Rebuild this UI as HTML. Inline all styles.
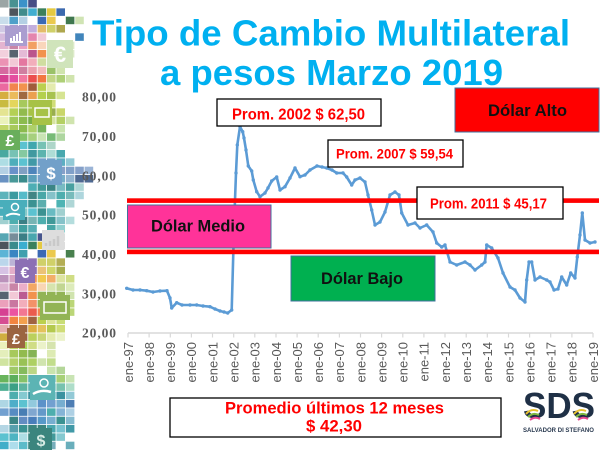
<!DOCTYPE html>
<html><head><meta charset="utf-8">
<style>
html,body{margin:0;padding:0;background:#fff;}
svg{display:block;}
text{font-family:"Liberation Sans",sans-serif;}
</style></head>
<body>
<svg id="s" width="610" height="450" viewBox="0 0 610 450" xmlns="http://www.w3.org/2000/svg">
<rect width="610" height="450" fill="#fff"/>
<g opacity="0.85">
<g id="mosaic"></g>
<g id="icons">
  <rect x="5" y="26" width="22" height="20" fill="#9c8cc8"/>
  <path d="M10 42 h13 M11 42 v-4 M14 42 v-6 M17 42 v-8 M20 42 v-10" stroke="#fff" stroke-width="2" fill="none"/>
  <rect x="47" y="40" width="26" height="28" fill="#c8e0b0"/>
  <text x="60" y="62" font-size="22" font-weight="bold" fill="#fff" text-anchor="middle">€</text>
  <rect x="32" y="100" width="20" height="25" fill="#98b828"/>
  <rect x="35" y="108" width="14" height="9" fill="none" stroke="#fff" stroke-width="1.5"/>
  <rect x="0" y="130" width="20" height="20" fill="#50a040"/>
  <text x="10" y="146" font-size="16" font-weight="bold" fill="#fff" text-anchor="middle">£</text>
  <rect x="40" y="160" width="22" height="25" fill="#5a90c0"/>
  <text x="51" y="179" font-size="17" font-weight="bold" fill="#fff" text-anchor="middle">$</text>
  <rect x="3" y="200" width="22" height="20" fill="#2aa0b0"/>
  <circle cx="15" cy="207" r="3.5" fill="none" stroke="#fff" stroke-width="1.5"/>
  <path d="M6 216 q6 -4 14 -1" stroke="#fff" stroke-width="2" fill="none"/>
  <rect x="42" y="230" width="22" height="20" fill="#d8d8d8"/>
  <path d="M46 246 v-3 M50 246 v-5 M54 246 v-7 M58 246 v-10" stroke="#c0c0c0" stroke-width="2.5"/>
  <rect x="15" y="260" width="20" height="23" fill="#7858a8"/>
  <text x="25" y="278" font-size="16" font-weight="bold" fill="#fff" text-anchor="middle">€</text>
  <rect x="40" y="295" width="30" height="25" fill="#80a838"/>
  <rect x="44" y="302" width="22" height="11" fill="none" stroke="#fff" stroke-width="1.5"/>
  <rect x="7" y="328" width="18" height="20" fill="#8a4a20"/>
  <text x="16" y="344" font-size="15" font-weight="bold" fill="#fff" text-anchor="middle">£</text>
  <rect x="30" y="375" width="25" height="25" fill="#40a8a8"/>
  <circle cx="44" cy="383" r="4" fill="none" stroke="#fff" stroke-width="1.5"/>
  <path d="M33 394 q8 -5 18 -2" stroke="#fff" stroke-width="2.5" fill="none"/>
  <rect x="30" y="428" width="22" height="22" fill="#1a7068"/>
  <text x="41" y="446" font-size="16" font-weight="bold" fill="#cfe8e0" text-anchor="middle">$</text>
</g>
</g>

<!-- Title -->
<text x="92" y="45.7" font-size="36" font-weight="bold" fill="#00b0f0" textLength="478" lengthAdjust="spacingAndGlyphs">Tipo de Cambio Multilateral</text>
<text x="160" y="85" font-size="36" font-weight="bold" fill="#00b0f0" textLength="343" lengthAdjust="spacingAndGlyphs">a pesos Marzo 2019</text>

<!-- Y axis labels -->
<g font-weight="bold" font-size="13.5" fill="#595959">
  <text x="82" y="101.7" textLength="34" lengthAdjust="spacing" style="font-family:'Liberation Serif',serif">80,00</text>
  <text x="82" y="141" textLength="34" lengthAdjust="spacing" style="font-family:'Liberation Serif',serif">70,00</text>
  <text x="82" y="180.3" textLength="34" lengthAdjust="spacing" style="font-family:'Liberation Serif',serif">60,00</text>
  <text x="82" y="219.6" textLength="34" lengthAdjust="spacing" style="font-family:'Liberation Serif',serif">50,00</text>
  <text x="82" y="259" textLength="34" lengthAdjust="spacing" style="font-family:'Liberation Serif',serif">40,00</text>
  <text x="82" y="298.3" textLength="34" lengthAdjust="spacing" style="font-family:'Liberation Serif',serif">30,00</text>
  <text x="82" y="337.6" textLength="34" lengthAdjust="spacing" style="font-family:'Liberation Serif',serif">20,00</text>
</g>

<!-- X axis -->
<line x1="128" y1="333" x2="593" y2="333" stroke="#d9d9d9" stroke-width="1.5"/>
<g stroke="#d9d9d9" stroke-width="1.2">
  <line x1="128" y1="333" x2="128" y2="337.5"/><line x1="149.1" y1="333" x2="149.1" y2="337.5"/><line x1="170.3" y1="333" x2="170.3" y2="337.5"/><line x1="191.4" y1="333" x2="191.4" y2="337.5"/><line x1="212.5" y1="333" x2="212.5" y2="337.5"/><line x1="233.7" y1="333" x2="233.7" y2="337.5"/><line x1="254.8" y1="333" x2="254.8" y2="337.5"/><line x1="276" y1="333" x2="276" y2="337.5"/><line x1="297.1" y1="333" x2="297.1" y2="337.5"/><line x1="318.2" y1="333" x2="318.2" y2="337.5"/><line x1="339.4" y1="333" x2="339.4" y2="337.5"/><line x1="360.5" y1="333" x2="360.5" y2="337.5"/><line x1="381.6" y1="333" x2="381.6" y2="337.5"/><line x1="402.8" y1="333" x2="402.8" y2="337.5"/><line x1="423.9" y1="333" x2="423.9" y2="337.5"/><line x1="445" y1="333" x2="445" y2="337.5"/><line x1="466.2" y1="333" x2="466.2" y2="337.5"/><line x1="487.3" y1="333" x2="487.3" y2="337.5"/><line x1="508.5" y1="333" x2="508.5" y2="337.5"/><line x1="529.6" y1="333" x2="529.6" y2="337.5"/><line x1="550.7" y1="333" x2="550.7" y2="337.5"/><line x1="571.9" y1="333" x2="571.9" y2="337.5"/><line x1="593" y1="333" x2="593" y2="337.5"/>
</g>
<g font-size="13" fill="#595959" text-anchor="end">
  <text transform="translate(132.8,342) rotate(-90)">ene-97</text>
  <text transform="translate(153.9,342) rotate(-90)">ene-98</text>
  <text transform="translate(175.1,342) rotate(-90)">ene-99</text>
  <text transform="translate(196.2,342) rotate(-90)">ene-00</text>
  <text transform="translate(217.3,342) rotate(-90)">ene-01</text>
  <text transform="translate(238.5,342) rotate(-90)">ene-02</text>
  <text transform="translate(259.6,342) rotate(-90)">ene-03</text>
  <text transform="translate(280.8,342) rotate(-90)">ene-04</text>
  <text transform="translate(301.9,342) rotate(-90)">ene-05</text>
  <text transform="translate(323,342) rotate(-90)">ene-06</text>
  <text transform="translate(344.2,342) rotate(-90)">ene-07</text>
  <text transform="translate(365.3,342) rotate(-90)">ene-08</text>
  <text transform="translate(386.4,342) rotate(-90)">ene-09</text>
  <text transform="translate(407.6,342) rotate(-90)">ene-10</text>
  <text transform="translate(428.7,342) rotate(-90)">ene-11</text>
  <text transform="translate(449.8,342) rotate(-90)">ene-12</text>
  <text transform="translate(471,342) rotate(-90)">ene-13</text>
  <text transform="translate(492.1,342) rotate(-90)">ene-14</text>
  <text transform="translate(513.3,342) rotate(-90)">ene-15</text>
  <text transform="translate(534.4,342) rotate(-90)">ene-16</text>
  <text transform="translate(555.5,342) rotate(-90)">ene-17</text>
  <text transform="translate(576.7,342) rotate(-90)">ene-18</text>
  <text transform="translate(597.8,342) rotate(-90)">ene-19</text>
</g>

<!-- Series -->
<polyline id="series" fill="none" stroke="#5b9bd5" stroke-width="2.6" stroke-linejoin="round" points="126.7,288.3 133,290 140,290 146.7,290.7 153,292 160,291 167,290.7 170,298 171.7,308 176.7,302.7 182,305 190,305 196.7,305 203,306 210,306.7 215,309 220,311 224,312 227.7,313 231.7,310 233.3,253 235,200 236,173 237.3,145 240,126.7 242.7,131.7 244,138 246,150 248.3,166 251.7,171 253.3,180 256.7,191.7 260,196.7 265,193 268,188 271.7,181 276.7,177 280,190 285,186.7 290,178 295,168 300,176.7 305,175 310,170 317,166 322,167 326.7,168 332,170 336.7,173 343,173 346.7,177 351.7,185 355,180 360,178 365,182 368,195 371.7,210 375,225 380,222 385,212 390,195 395,192 399,195 401.7,213 408,225 415,223 420,228 426.7,225 433,232 436.7,243 441.7,247 445,245 450,262 456.7,265 465,262 470,265 475,270 481.7,265 485,262 486.7,245 491.7,248 498,258 503,273 510,287 515,290 520,298 525,302 526.7,280 529,262 531.7,262 535,280 540,277 546.7,280 550,282 554,290 558,289 561.7,277 566.7,285 570.7,273 575,278 577.3,257 580,235 582.3,213 585,240 590,243 595,242"/>
<g id="markers" fill="#5b9bd5"></g>

<!-- Red band lines -->
<rect x="127" y="198.3" width="472" height="4.6" fill="#ff0000"/>
<rect x="127" y="249.6" width="472" height="4.6" fill="#ff0000"/>

<!-- Zone boxes -->
<rect x="127.5" y="205" width="143.5" height="43" fill="#ff3399" stroke="#41719c" stroke-width="1"/>
<text x="151" y="231.7" font-size="17" font-weight="bold" fill="#111" textLength="94" lengthAdjust="spacingAndGlyphs">Dólar Medio</text>
<rect x="291" y="256" width="144" height="45" fill="#00b050" stroke="#41719c" stroke-width="1"/>
<text x="321" y="284" font-size="17" font-weight="bold" fill="#111" textLength="82" lengthAdjust="spacingAndGlyphs">Dólar Bajo</text>
<rect x="455" y="88" width="144" height="44" fill="#ff0000" stroke="#41719c" stroke-width="1"/>
<text x="488" y="116" font-size="17" font-weight="bold" fill="#111" textLength="79" lengthAdjust="spacingAndGlyphs">Dólar Alto</text>

<!-- Prom boxes -->
<rect x="217" y="99" width="164" height="27" fill="#fff" stroke="#000" stroke-width="1.3"/>
<text x="232" y="119.5" font-size="16" font-weight="bold" fill="#ff0000" textLength="133" lengthAdjust="spacingAndGlyphs">Prom. 2002 $ 62,50</text>
<rect x="328" y="140" width="135" height="27" fill="#fff" stroke="#000" stroke-width="1.3"/>
<text x="336" y="158.3" font-size="14" font-weight="bold" fill="#ff0000" textLength="117" lengthAdjust="spacingAndGlyphs">Prom. 2007 $ 59,54</text>
<rect x="417" y="187" width="146" height="32" fill="#fff" stroke="#000" stroke-width="1.3"/>
<text x="430" y="208.3" font-size="15" font-weight="bold" fill="#ff0000" textLength="117" lengthAdjust="spacingAndGlyphs">Prom. 2011 $ 45,17</text>

<!-- Bottom box -->
<rect x="170" y="398" width="331" height="39" fill="#fff" stroke="#000" stroke-width="1.3"/>
<text x="225" y="413.3" font-size="16.5" font-weight="bold" fill="#ff0000" textLength="219" lengthAdjust="spacingAndGlyphs">Promedio últimos  12 meses</text>
<text x="306" y="431.5" font-size="16.5" font-weight="bold" fill="#ff0000" textLength="56" lengthAdjust="spacingAndGlyphs">$ 42,30</text>

<!-- SDS logo -->
<text x="523" y="418" font-size="36" font-weight="bold" fill="#1f3046" textLength="72" lengthAdjust="spacingAndGlyphs">SDS</text>
<path d="M526 414 q5 -6 12 -3" stroke="#e8c030" stroke-width="2" fill="none"/>
<path d="M528 417 q5 -5 11 -2" stroke="#80b840" stroke-width="2" fill="none"/>
<path d="M530 420 q5 -4 10 -1" stroke="#e84890" stroke-width="2" fill="none"/>
<path d="M574 414 q5 -6 12 -3" stroke="#e8c030" stroke-width="2" fill="none"/>
<path d="M576 417 q5 -5 11 -2" stroke="#80b840" stroke-width="2" fill="none"/>
<path d="M578 420 q5 -4 10 -1" stroke="#e84890" stroke-width="2" fill="none"/>
<text x="523" y="432" font-size="6.5" font-weight="bold" fill="#2a3a50" textLength="71" lengthAdjust="spacingAndGlyphs">SALVADOR DI STEFANO</text>
</svg>
<script>
(function(){
var rows=[
'#8a9696 #2a8080 #1a80c0 #283070',
'- #303840 #207878 #20a0c8 #1a6a40 #e0c020 #1a50a0',
'#c0d8e8 #3090c0 #a8c8e0 - #1a50a8 #e8c030 - #1e6030 #c8e0a8',
'#c8c0e0 #9c8cc8 #9c8cc8 #b8a0d8 #e0b050 #c8c850 #a09830',
'#d0b0d8 #c080b0 #9070a8 #e070a0 #f0c0d0 - - - #2070b0',
'#e0a8c8 #c07098 #e890b8 #f09048 #f8d0b0 - - #d8e8c0',
'#f0c8d8 #3a4a58 #e0b0d0 #b03878 #f08030 - - #d8e8c0',
'#e880a8 #f0c0d0 #e06090 #f0a0b0 #c8d890 #a0c860',
'#d05090 #d84890 #c86890 #e890a0 #f0b0b0 #8ab850 #c8e0a0',
'#d02080 #e03090 #f06090 #e83030 #f06020 #b8d070 #a0c860 #c8e0a0',
'#e85090 #f07030 #f08030 #904018 #b0c830 #e0e8a0',
'#d0a020 #e8b040 #905020 #e89030 #a8c830 #98b830 #d0e080',
'#c0b020 #e0d040 #98c040 #98b828 #98b828 #c8d860',
'#e0e080 #a8c838 #80b030 #98b828 #98b828 #88a030 #c0d050',
'#e8f0b0 #90c040 #78b030 #60a028 #b0d060 #d0e090 #a8c848 #c8e0a0',
'#b8d050 #98c040 #78b030 #a0c850 #60a840 - #c0e0a0',
'#50a040 #48a048 #70b850 #98c868 #c0e0a8 #60b060 #a0d090',
'#50a040 #40a8a0 #40b8c8 #2098a0 #60b8a8 #a0d0c0',
'#2a9a90 #60b8a8 #70c090 #208890 #40a8a0 #a0d8d0 #2a9aa0',
'#a0d8e0 #30a0b0 #40b8c8 #208898 #5a90c0 #5a90c0 #40a0b8 #80c0d0',
'#a8c8e0 #5080c0 #6a90b8 #3070b0 #5a90c0 #5a90c0 #7090c0 #6a90c0 #7090c0 #8aa8d0',
'#5080b8 #2a8888 #1a7878 #4090b0 #5a90c0 #3a80b8 #60a0c0 #80a8c8 #305080 #305080',
'- - - #30a0a8 #208888 #1a7070 #60b0b8 #2a9090 #a0d0d0',
'#40a8b0 #1a8a90 #38b0c0 #207070 #2a9898 #70b8c0 #30a0a0 #60b0b0 #a0d0d8',
'#2aa0b0 #2aa0b0 #2aa0b0 #1a8080 #40a0a0 - #30a8a8 #a0d0d0',
'#2aa0b0 #2aa0b0 #70c0c0 #40b8c8 #1a8080 #50b0b8 #90c8c8',
'#90c8c8 #30a0a0 #1a6a70 #60a8a8 #30a0a0 #208888 #70b8c0 #a8d8d8',
'- #70b8c0 #209090 #3aa0a8 - #2a9898 #80c8c8',
'#3a98a8 #607a88 #1a6870 #2a98a0 #283878 #d8d8d8 #d8d8d8',
'#303840 #1a7878 #1aa0c8 #1a6a40 #e0c020 #d8d8d8 #d8d8d8',
'#40a8d0 #1a70b8 #2090a0 - #1a50a8 #e8c030 - #2a6a30',
'#b0d0e8 #b0a8d0 #7858a8 #7858a8 #c8c850 #c8c850 #a8a038',
'#d0b8e0 #e0a0c0 #7858a8 #7858a8 #e8b860 #c8d050 #98a030',
'#b080b0 #d090b8 #e870a0 #f08040 #f0c030 #f0a050 #d8e090 #c8d870',
'#d8a8c8 #c07098 #e8a0c0 #f09848 #f8d0a8 #d0e0a0 #b8d080 #d8e8b0',
'#3a4a58 #f0c0d0 #b04080 #f08030 #80a838 #80a838 #80a838 #c8e0a0',
'#e890b0 #c06090 #f0a0b0 #f08050 #80a838 #80a838 #80a838 #b0d060',
'#d02080 #e83890 #f06080 #e84030 #f07030 #a8c840 #90c040 #b0d060',
'#d03080 #f07020 #f09030 #904820 #b0c830 #d8e088 #c0d860',
'#e0a0a0 #8a4a20 #8a4a20 #d8a020 #e0b840 #a8c030 #c8d860',
'#c8a020 #8a4a20 #8a4a20 #b0c840 #c0d060 #e0e8a0 #e8f0c0',
'#e8f0b0 #b8d050 #a0c840 #c8d870 #e8f0c0 #d0e0a0',
'#e0ecb0 #98c040 #80b030 #70a838 - #d8e8a8',
'#c8e090 #a8c850 #88b838 #a0c848 #c8e0a0 #b8d878',
'- #90c050 #70b040 #b0d070 - #c0e0a0 #a8d088',
'#50a840 #40a040 #70b850 #40a8a8 #40a8a8 #40a8a8 #98c860 #c0e0a8',
'#30a080 #1a9070 #40a890 #40a8a8 #40a8a8 #40a8a8 #60b8a0 #a0d8c0',
'- #30a0a0 #70c0c8 #1a8090 #60b0c0 #30a0b0 #1a8090 #80c0d0',
'#a0d0e0 #30a0c0 #40b8c8 #80c0d8 #4080c0 #5a90c8 #60a0c8 #3068a8',
'#5a90c8 #3a78b8 #2a68a8 #6a98c8 #4a88c0 #30a0a0 #70a8d0 #a0c8e0',
'- #1a7070 #4878b8 #2a68b0 #3a88c0 #60a0c8 #1a8080 #70b0c8',
'#a8d0e0 #3a90a0 #1a8080 #1a7068 #1a7068 #2a98a0 #60b8c8 #208898',
'#40b8c8 #30a8b8 #a0d8e0 #1a7068 #1a7068 #208888 #70c0c8',
'#20a0c0 #a0d8e8 #40b0c0 #1a7068 #1a7068 #60a0b0 - #50a0b0'
];
var NS='http://www.w3.org/2000/svg';
var g=document.getElementById('mosaic');
var rh=450/54, cw=9.4;
for(var r=0;r<rows.length;r++){
  var cs=rows[r].split(' ');
  for(var c=0;c<cs.length;c++){
    if(cs[c]==='-')continue;
    var e=document.createElementNS(NS,'rect');
    e.setAttribute('x',(c*cw).toFixed(2));
    e.setAttribute('y',(r*rh).toFixed(2));
    e.setAttribute('width',(cw-0.8).toFixed(2));
    e.setAttribute('height',(rh-0.8).toFixed(2));
    e.setAttribute('fill',cs[c]);
    g.appendChild(e);
  }
}
var pts=document.getElementById('series').getAttribute('points').trim().split(/\s+/);
var m=document.getElementById('markers');
for(var i=0;i<pts.length;i++){
  var p=pts[i].split(',');
  var ci=document.createElementNS(NS,'circle');
  ci.setAttribute('cx',p[0]);ci.setAttribute('cy',p[1]);ci.setAttribute('r','1.7');
  m.appendChild(ci);
}
})();
</script>
</body></html>
